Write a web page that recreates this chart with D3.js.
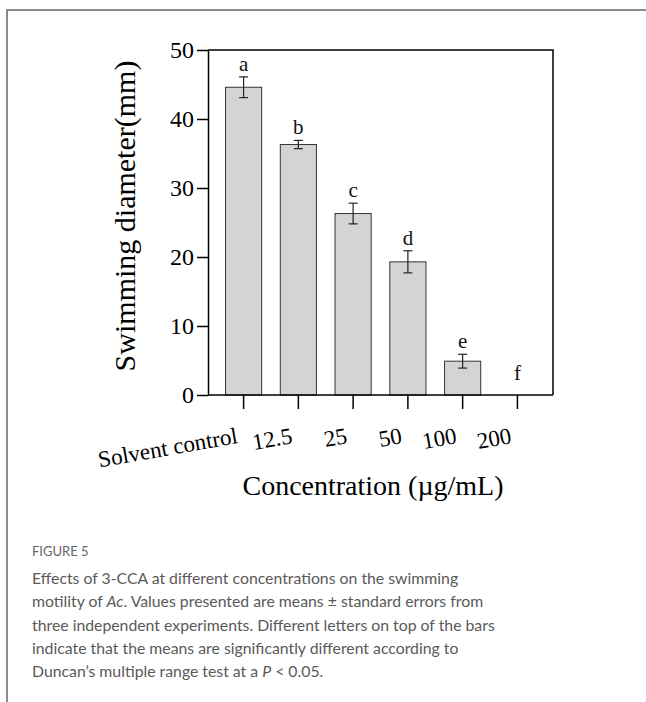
<!DOCTYPE html>
<html>
<head>
<meta charset="utf-8">
<script src="https://cdn.jsdelivr.net/npm/d3@7"></script>
<style>
  html, body { margin: 0; padding: 0; background: #fff; }
  svg { display: block; }
</style>
</head>
<body>
<svg id="chart" width="646" height="702"></svg>
<script>
const categories = ["Solvent control", "12.5", "25", "50", "100", "200"];
const means = [44.6, 36.3, 26.3, 19.3, 4.9, 0];
const errors = [1.5, 0.6, 1.5, 1.6, 1.0, 0];
const letters = ["a", "b", "c", "d", "e", "f"];
const yTicks = [0, 10, 20, 30, 40, 50];
const yLabel = "Swimming diameter(mm)";
const xLabel = "Concentration (\u00b5g/mL)";
const captionTitle = "FIGURE 5";

(function () {
const svg = d3.select("#chart");

// outer frame
svg.append("path")
  .attr("d", "M7,702 V10 H646")
  .attr("fill", "none").attr("stroke", "#666").attr("stroke-width", 1.5);

const pLeft = 208, pRight = 553, pTop = 50, pBottom = 395;
const serif = "'Liberation Serif','Times New Roman',serif";

const x = d3.scaleBand().domain(categories).range([pLeft, pRight])
  .paddingInner(0.34).paddingOuter(0.32);
const y = d3.scaleLinear().domain([0, 50]).range([pBottom, pTop]);

const g = svg.append("g");

// bars
g.selectAll("rect.bar").data(categories).enter().append("rect")
  .attr("class", "bar")
  .attr("x", d => x(d))
  .attr("width", x.bandwidth())
  .attr("y", (d, i) => y(means[i]))
  .attr("height", (d, i) => y(0) - y(means[i]))
  .attr("fill", "#d4d4d4")
  .attr("stroke", "#333").attr("stroke-width", 1);

// error bars
const cap = 4.5;
categories.forEach((c, i) => {
  if (errors[i] <= 0) return;
  const cx = x(c) + x.bandwidth() / 2;
  const y1 = y(means[i] + errors[i]), y2 = y(means[i] - errors[i]);
  const eg = g.append("g").attr("stroke", "#222").attr("stroke-width", 1.2);
  eg.append("line").attr("x1", cx).attr("x2", cx).attr("y1", y1).attr("y2", y2);
  eg.append("line").attr("x1", cx - cap).attr("x2", cx + cap).attr("y1", y1).attr("y2", y1);
  eg.append("line").attr("x1", cx - cap).attr("x2", cx + cap).attr("y1", y2).attr("y2", y2);
});

// significance letters
g.selectAll("text.letter").data(categories).enter().append("text")
  .attr("class", "letter")
  .attr("x", d => x(d) + x.bandwidth() / 2)
  .attr("y", (d, i) => Math.min(y(means[i] + errors[i]) - 6, y(0) - 15))
  .attr("text-anchor", "middle")
  .attr("font-family", serif).attr("font-size", 21).attr("fill", "#111")
  .text((d, i) => letters[i]);

// top and right frame of the plot
g.append("path")
  .attr("d", `M${pLeft},${pTop} H${pRight} V${pBottom}`)
  .attr("fill", "none").attr("stroke", "#000").attr("stroke-width", 1.5);

// y axis
const yAxis = g.append("g").attr("transform", `translate(${pLeft},0)`)
  .call(d3.axisLeft(y).tickValues(yTicks).tickSize(11).tickSizeOuter(0).tickPadding(3));
yAxis.selectAll("path,line").attr("stroke", "#000").attr("stroke-width", 1.5);
yAxis.selectAll("text").attr("font-family", serif).attr("font-size", 24).attr("fill", "#000");

// x axis
const xAxis = g.append("g").attr("transform", `translate(0,${pBottom})`)
  .call(d3.axisBottom(x).tickSize(14).tickSizeOuter(0));
xAxis.select("path.domain").attr("d", `M${pLeft},0H${pRight}`);
xAxis.selectAll("path,line").attr("stroke", "#000").attr("stroke-width", 1.5);
xAxis.selectAll("text")
  .attr("font-family", serif).attr("font-size", 23).attr("fill", "#000")
  .attr("y", 0).attr("dy", 0)
  .attr("text-anchor", "end")
  .attr("transform", "translate(-5,48) rotate(-10)");

// axis titles
g.append("text")
  .attr("transform", `translate(135,216) rotate(-90)`)
  .attr("text-anchor", "middle")
  .attr("font-family", serif).attr("font-size", 30).attr("fill", "#000")
  .text(yLabel);
g.append("text")
  .attr("x", 373).attr("y", 495)
  .attr("text-anchor", "middle")
  .attr("font-family", serif).attr("font-size", 28).attr("fill", "#000")
  .text(xLabel);

// caption
const sans = "Lato, 'Open Sans', sans-serif";
svg.append("text").attr("x", 32).attr("y", 556)
  .attr("font-family", sans).attr("font-size", 13).attr("fill", "#666")
  .text(captionTitle);

const capLines = [
  [{t: "Effects of 3-CCA at different concentrations on the swimming"}],
  [{t: "motility of "}, {t: "Ac", i: true}, {t: ". Values presented are means \u00b1 standard errors from"}],
  [{t: "three independent experiments. Different letters on top of the bars"}],
  [{t: "indicate that the means are significantly different according to"}],
  [{t: "Duncan\u2019s multiple range test at a "}, {t: "P", i: true}, {t: " < 0.05."}]
];
capLines.forEach((parts, li) => {
  const t = svg.append("text").attr("x", 32).attr("y", 584 + li * 23.3)
    .attr("font-family", sans).attr("font-size", 15.8).attr("fill", "#5a5a5a");
  parts.forEach(p => {
    t.append("tspan").attr("font-style", p.i ? "italic" : "normal").text(p.t);
  });
});
})();
</script>
</body>
</html>
